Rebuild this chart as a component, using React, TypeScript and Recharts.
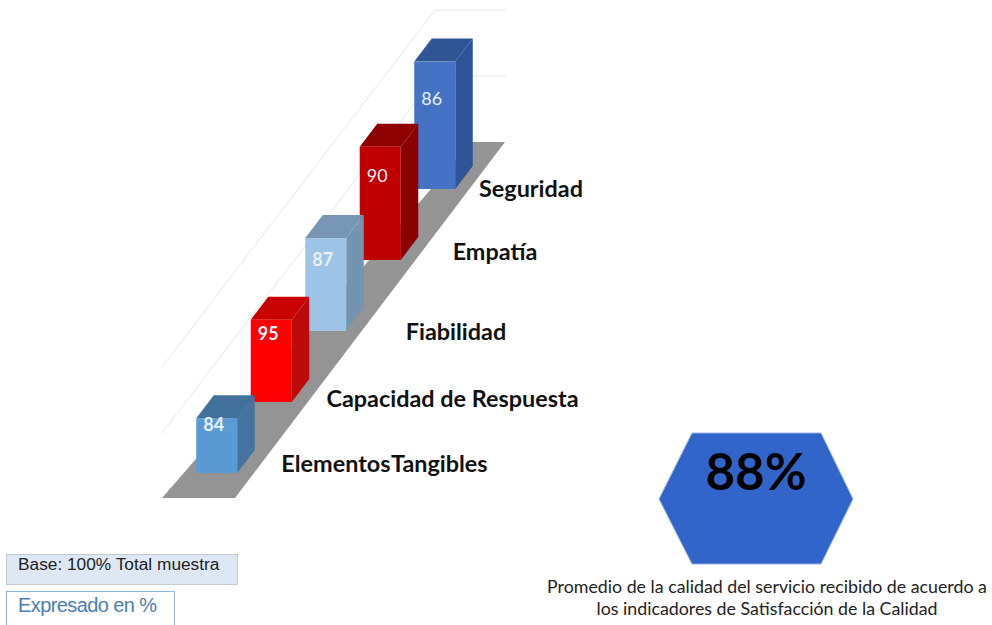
import { BarChart, Bar, XAxis, YAxis } from "recharts"

const categories = ["Elementos Tangibles", "Capacidad de Respuesta", "Fiabilidad", "Empatía", "Seguridad"]
const values = [84, 95, 87, 90, 86]
const average = "88%"

const frontColors = ["#5b9bd5", "#ff0000", "#9dc3e6", "#c00000", "#4472c4"]
const topColors = ["#41719c", "#c80000", "#7896b4", "#8f0000", "#2f5597"]
const sideColors = ["#44749f", "#bd0a0a", "#7594b0", "#8b0000", "#2f5597"]

// label nudges relative to each band, the source labels were placed by hand
const labelShiftX = [168, 181.5, 130.5, 115, 96.5]
const labelShiftY = [-10, -4, 0, -9, -1]
const labelWordSpacing = [-4.5, 0, 0, 0, 0]

// drawn back to front, so the nearest bar ends up on top
const rows = categories.map((name, i) => ({ name, value: values[i] })).reverse()

// fake 3D: the floor climbs per category and bars grow towards the back
const FLOOR_STEP = 71
const GROWTH = 17.7
const DEPTH_X = 17.5
const DEPTH_Y = 23

const Bar3D = ({ x, y, width, height, payload }: any) => {
  const i = categories.indexOf(payload.name)
  const bottom = y + height - FLOOR_STEP * i
  const top = bottom - height - GROWTH * i
  const right = x + width
  return (
    <g>
      <polygon
        points={`${right},${top} ${right + DEPTH_X},${top - DEPTH_Y} ${right + DEPTH_X},${bottom - DEPTH_Y} ${right},${bottom}`}
        fill={sideColors[i]}
      />
      <polygon
        points={`${x},${top} ${x + DEPTH_X},${top - DEPTH_Y} ${right + DEPTH_X},${top - DEPTH_Y} ${right},${top}`}
        fill={topColors[i]}
      />
      <rect x={x} y={top} width={width} height={bottom - top} fill={frontColors[i]} />
      <text
        x={x + width / 2 - 3}
        y={top + 6 + 7.5 * i}
        textAnchor="middle"
        dominantBaseline="central"
        fill="#e8f0fa"
        fontFamily="Lato"
        fontSize={18}
        fontWeight={i < 3 ? 700 : 400}
      >
        {payload.value}
      </text>
    </g>
  )
}

const CategoryTick = ({ x, y, payload }: any) => {
  const i = categories.indexOf(payload.value)
  return (
    <text
      x={x + labelShiftX[i]}
      y={y - FLOOR_STEP * i + labelShiftY[i]}
      textAnchor="middle"
      dominantBaseline="central"
      fill="#111"
      fontFamily="Lato"
      fontWeight={700}
      fontSize={23.4}
      wordSpacing={labelWordSpacing[i]}
    >
      {payload.value}
    </text>
  )
}

export default function App() {
  return (
    <div style={{ position: "absolute", left: 0, top: 0, width: 992, height: 625, background: "#fff", overflow: "hidden" }}>
      <svg width={992} height={625} style={{ position: "absolute", left: 0, top: 0 }}>
        <polyline points="162,367 435,10 506,10" fill="none" stroke="#e6e6e6" />
        <polyline points="162,433 435,76 506,76" fill="none" stroke="#e6e6e6" />
        <polygon points="162,498 235,498 505,142 472,142" fill="#949494" />
      </svg>

      <div style={{ position: "absolute", left: 0, top: 0 }}>
        <BarChart
          width={992}
          height={625}
          data={rows}
          margin={{ top: 404, right: 530.25, bottom: 122, left: 189.25 }}
        >
          <XAxis
            dataKey="name"
            reversed
            interval={0}
            height={30}
            axisLine={false}
            tickLine={false}
            tickSize={0}
            tickMargin={0}
            tick={<CategoryTick />}
          />
          <YAxis hide domain={[22, 100]} />
          <Bar dataKey="value" barSize={41} shape={<Bar3D />} isAnimationActive={false} />
        </BarChart>
      </div>

      <svg width={992} height={625} style={{ position: "absolute", left: 0, top: 0 }}>
        <polygon points="659,499 692,433 821,433 853,499 821,564 692,564" fill="#3265c9" stroke="#9db4dc" />
        <text x={756} y={470} textAnchor="middle" dominantBaseline="central" fontFamily="Lato" fontWeight={700} fontSize={51} fill="#000">
          {average}
        </text>
        <text x={767} y={586} textAnchor="middle" dominantBaseline="central" fontFamily="Lato" fontSize={17.8} fill="#222">
          Promedio de la calidad del servicio recibido de acuerdo a
        </text>
        <text x={767} y={608} textAnchor="middle" dominantBaseline="central" fontFamily="Lato" fontSize={17.8} fill="#222">
          los indicadores de Satisfacción de la Calidad
        </text>

        <rect x={6.5} y={554.5} width={231} height={30} fill="#dee8f5" stroke="#c3cad4" />
        <text x={18} y={564} dominantBaseline="central" fontFamily="Liberation Sans" fontSize={17.3} fill="#222">
          Base: 100% Total muestra
        </text>
        <rect x={6.5} y={591.5} width={168} height={40} fill="#fff" stroke="#8fb4de" />
        <text x={18} y={605} dominantBaseline="central" fontFamily="Liberation Sans" fontSize={20} letterSpacing={-0.6} fill="#4a7eb0">
          Expresado en %
        </text>
      </svg>
    </div>
  )
}
